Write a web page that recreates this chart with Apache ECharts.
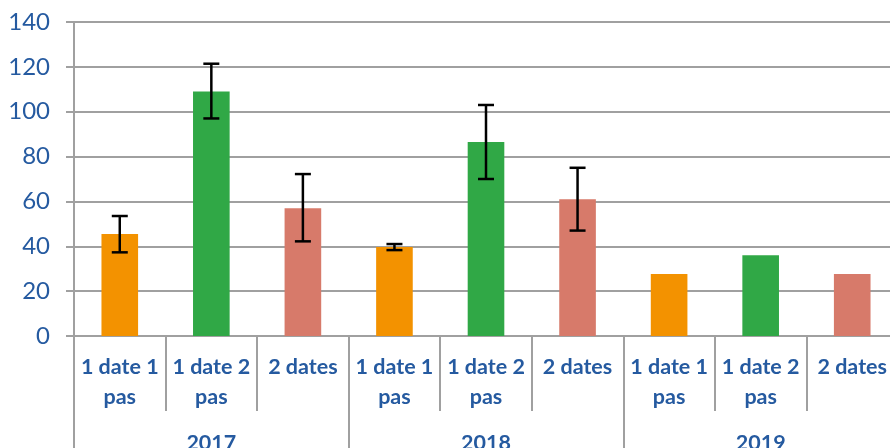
<!DOCTYPE html>
<html><head><meta charset="utf-8">
<script src="https://cdn.jsdelivr.net/npm/echarts@6/dist/echarts.min.js"></script>
<style>html,body{margin:0;padding:0;background:#fff}#c{width:890px;height:448px}</style>
</head><body><div id="c"></div>
<script>
const categories = ['1 date 1\npas','1 date 2\npas','2 dates','1 date 1\npas','1 date 2\npas','2 dates','1 date 1\npas','1 date 2\npas','2 dates'];
const years = ['2017','2018','2019'];
const values = [45.5, 109, 57, 39.7, 86.5, 61, 27.6, 36, 27.6];
const errLow = [37.3, 97, 42.2, 38.3, 70, 47, null, null, null];
const errHigh = [53.5, 121.4, 72.2, 41, 103, 75, null, null, null];
const barColors = ['#F39200','#30A846','#D77A6A'];
const yTicks = [0,20,40,60,80,100,120,140];

const txt = '#255AA0';
const gridCol = '#A0A0A0';
const chart = echarts.init(document.getElementById('c'));
const errData = [];
errLow.forEach((l,i)=>{ if(l!=null) errData.push([i,l,errHigh[i]]); });
chart.setOption({
  animation:false,
  grid:{left:74, top:22, width:824, height:314, containLabel:false, outerBoundsMode:'none'},
  xAxis:[{
    type:'category', data:categories, position:'bottom',
    axisLine:{show:true, lineStyle:{color:gridCol, width:2}},
    axisTick:{show:true, interval:0, length:75, lineStyle:{color:gridCol, width:2}},
    axisLabel:{interval:0, margin:16, color:txt, fontFamily:'Lato', fontWeight:'bold', fontSize:21.5, lineHeight:30}
  },{
    type:'category', data:years, position:'bottom',
    axisLine:{show:false},
    axisTick:{show:true, interval:0, length:115, lineStyle:{color:gridCol, width:2}},
    axisLabel:{interval:0, margin:96, color:txt, fontFamily:'Lato', fontWeight:'bold', fontSize:21.5}
  }],
  yAxis:{
    type:'value', min:0, max:140, interval:20,
    axisLine:{show:true, lineStyle:{color:gridCol, width:2}},
    axisTick:{show:true, length:8, lineStyle:{color:gridCol, width:2}},
    splitLine:{show:true, lineStyle:{color:gridCol, width:2}},
    axisLabel:{margin:24, color:txt, fontFamily:'Lato', fontSize:24}
  },
  series:[{
    type:'bar', xAxisIndex:0, barWidth:'40%',
    data: values.map((v,i)=>({value:v, itemStyle:{color:barColors[i%3]}})),
    z:2
  },{
    type:'custom', xAxisIndex:0, z:5,
    data: errData,
    renderItem:function(params, api){
      const x = api.coord([api.value(0), 0])[0];
      const yl = api.coord([api.value(0), api.value(1)])[1];
      const yh = api.coord([api.value(0), api.value(2)])[1];
      const hw = 8;
      const st = {stroke:'#000', lineWidth:2.5};
      return {type:'group', children:[
        {type:'line', shape:{x1:x,y1:yl,x2:x,y2:yh}, style:st},
        {type:'line', shape:{x1:x-hw,y1:yl,x2:x+hw,y2:yl}, style:st},
        {type:'line', shape:{x1:x-hw,y1:yh,x2:x+hw,y2:yh}, style:st}
      ]};
    }
  }]
});
</script></body></html>
